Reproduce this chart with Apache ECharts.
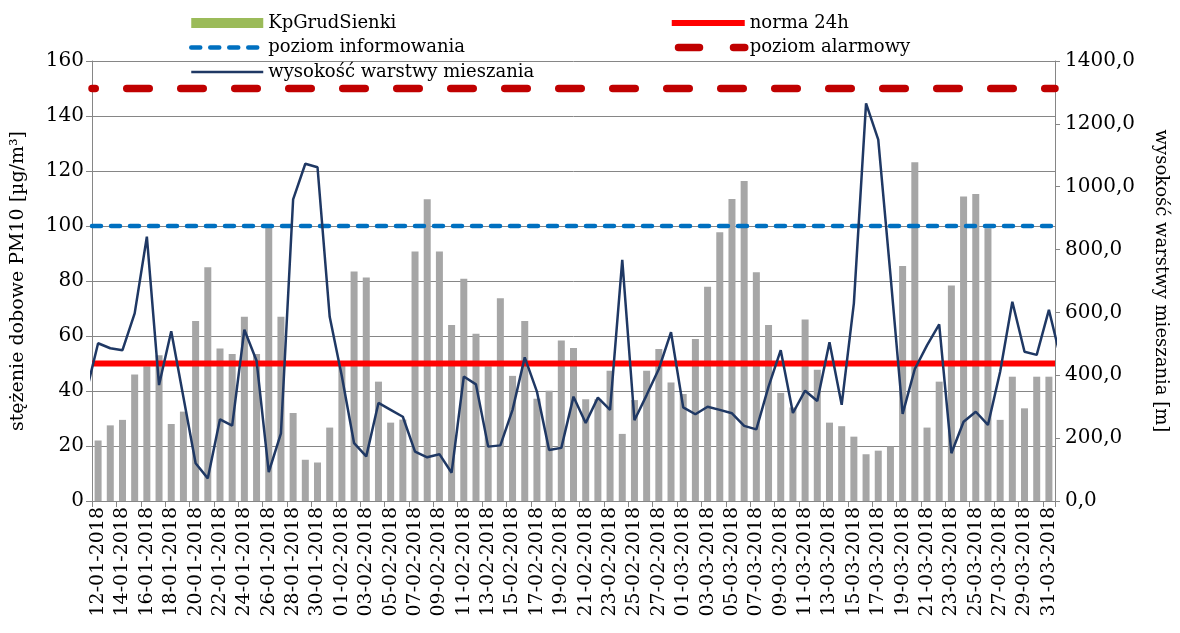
<!DOCTYPE html>
<html>
<head>
<meta charset="utf-8">
<script src="https://cdn.jsdelivr.net/npm/echarts@6/dist/echarts.min.js"></script>
<style>
html,body{margin:0;padding:0;background:#fff;}
#chart{width:1180px;height:633px;}
</style>
</head>
<body>
<div id="chart"></div>
<script>
// ---- data ----
const dates = [];
(function(){
  const months = [[1, 12, 31], [2, 1, 28], [3, 1, 31]];
  months.forEach(function(m){
    for (let d = m[1]; d <= m[2]; d++) {
      dates.push((d < 10 ? '0' : '') + d + '-0' + m[0] + '-2018');
    }
  });
})();

const pm10KpGrudSienki = [
  22, 27.5, 29.5, 46, 49, 53, 28, 32.5, 65.5, 85,
  55.5, 53.5, 67, 53.5, 100.5, 67, 32, 15, 14, 26.7,
  49.5, 83.5, 81.3, 43.4, 28.5, 29.6, 90.7, 109.7, 90.7, 64,
  80.8, 60.8, 49, 73.7, 45.5, 65.5, 37.2, 40.1, 58.4, 55.6,
  37, 37, 47.4, 24.4, 36.7, 47.4, 55.3, 43.1, 38.9, 58.9,
  77.9, 97.7, 109.8, 116.4, 83.2, 64, 39.3, 34, 66, 47.7,
  28.5, 27.2, 23.4, 17, 18.3, 19.8, 85.5, 123.2, 26.7, 43.4,
  78.4, 110.7, 111.6, 99.2, 29.5, 45.2, 33.7, 45.2, 45.2
];

// mixing layer height [m]; first value = 11-01-2018, last = 01-04-2018 (outside the shown range, clipped)
const mixingHeight = [
  342,
  502, 486, 480, 597, 841, 369, 540, 330, 120, 72,
  260, 240, 545, 446, 92, 215, 960, 1073, 1062, 586,
  396, 184, 142, 312, 290, 268, 157, 139, 149, 90,
  396, 371, 173, 177, 290, 457, 348, 162, 169, 332,
  248, 329, 290, 767, 257, 337, 420, 537, 298, 276,
  300, 290, 279, 239, 228, 364, 480, 280, 351, 318,
  505, 306, 629, 1265, 1150, 720, 277, 420, 495, 562,
  152, 252, 284, 242, 411, 634, 475, 465, 608,
  448
];

const norma24h = 50;
const poziomInformowania = 100;
const poziomAlarmowy = 150;

const leftTicks = { min: 0, max: 160, interval: 20 };
const rightTicks = { min: 0, max: 1400, interval: 200 };

// ---- chart ----
const FONT = 'DejaVu Serif';
const lineXMin = 0, lineXMax = dates.length;
const mixingPoints = mixingHeight.map(function(v, k){ return [k - 0.5, v]; });
function constLine(v){ return [[lineXMin, v], [lineXMax, v]]; }

const sNorma = { color: '#FF0000', width: 6 };
const sInfo = { color: '#0070C0', width: 4.5, type: [9, 10], cap: 'round' };
const sAlarm = { color: '#C00000', width: 7.5, type: [22.5, 31.5], cap: 'round', dashOffset: 19.25 };
const sAlarmLegend = { color: '#C00000', width: 7.5, type: [21, 34], cap: 'round', dashOffset: 48.25 };
const sMix = { color: '#1F3864', width: 2.5 };
const hiddenSymbol = { opacity: 0 };

const legendText = { fontFamily: FONT, fontSize: 18, color: '#000', lineHeight: 20 };

const chart = echarts.init(document.getElementById('chart'), null, {renderer: 'canvas'});
chart.setOption({
  animation: false,
  backgroundColor: '#ffffff',
  grid: { left: 92, right: 125, top: 61, bottom: 132, containLabel: false },
  legend: [
    {
      orient: 'vertical', left: 184, top: 8, itemGap: 4.5,
      itemWidth: 72, itemHeight: 10, textStyle: legendText,
      data: [
        { name: 'KpGrudSienki', icon: 'rect', itemStyle: { color: '#9BBB59' } },
        { name: 'poziom informowania', itemStyle: hiddenSymbol, lineStyle: sInfo },
        { name: 'wysokość warstwy mieszania', itemStyle: hiddenSymbol, lineStyle: sMix }
      ]
    },
    {
      orient: 'vertical', left: 663, top: 8, itemGap: 4.5,
      itemWidth: 73, itemHeight: 10, textStyle: legendText,
      data: [
        { name: 'norma 24h', itemStyle: hiddenSymbol, lineStyle: sNorma },
        { name: 'poziom alarmowy', itemStyle: hiddenSymbol, lineStyle: sAlarmLegend }
      ]
    }
  ],
  xAxis: [
    {
      type: 'category', data: dates, boundaryGap: true,
      axisLine: { lineStyle: { color: '#868686', width: 1 } },
      axisTick: { show: true, interval: 1, length: 6, lineStyle: { color: '#868686' } },
      axisLabel: { interval: 1, rotate: 90, fontFamily: FONT, fontSize: 19, color: '#000', margin: 6 }
    },
    {
      type: 'value', min: lineXMin, max: lineXMax, show: false
    }
  ],
  yAxis: [
    {
      type: 'value', min: leftTicks.min, max: leftTicks.max, interval: leftTicks.interval,
      name: 'stężenie dobowe PM10 [µg/m³]', nameLocation: 'middle', nameGap: 64, nameRotate: 90,
      nameTextStyle: { fontFamily: FONT, fontSize: 19, color: '#000' },
      axisLine: { show: true, lineStyle: { color: '#868686' } },
      axisTick: { show: true, length: 6, lineStyle: { color: '#868686' } },
      axisLabel: { fontFamily: FONT, fontSize: 20, color: '#000', margin: 8 },
      splitLine: { show: true, lineStyle: { color: '#868686', width: 1 } }
    },
    {
      type: 'value', min: rightTicks.min, max: rightTicks.max, interval: rightTicks.interval,
      position: 'right',
      name: 'wysokość warstwy mieszania [m]', nameLocation: 'middle', nameGap: 97, nameRotate: -90,
      nameTextStyle: { fontFamily: FONT, fontSize: 18, color: '#000' },
      axisLine: { show: true, lineStyle: { color: '#868686' } },
      axisTick: { show: true, length: 5, lineStyle: { color: '#868686' } },
      axisLabel: { fontFamily: FONT, fontSize: 20, color: '#000', margin: 10,
        formatter: function(v){ return v.toFixed(1).replace('.', ','); } },
      splitLine: { show: false }
    }
  ],
  series: [
    {
      name: 'KpGrudSienki', type: 'bar', xAxisIndex: 0, yAxisIndex: 0,
      data: pm10KpGrudSienki, barWidth: 7,
      itemStyle: { color: '#A6A6A6' }, z: 2
    },
    {
      name: 'norma 24h', type: 'line', xAxisIndex: 1, yAxisIndex: 0,
      data: constLine(norma24h), symbol: 'none', showSymbol: false,
      lineStyle: sNorma, itemStyle: { color: '#FF0000' }, z: 3
    },
    {
      name: 'poziom informowania', type: 'line', xAxisIndex: 1, yAxisIndex: 0,
      data: constLine(poziomInformowania), symbol: 'none', showSymbol: false,
      lineStyle: sInfo, itemStyle: { color: '#0070C0' }, z: 3
    },
    {
      name: 'poziom alarmowy', type: 'line', xAxisIndex: 1, yAxisIndex: 0,
      data: constLine(poziomAlarmowy), symbol: 'none', showSymbol: false,
      lineStyle: sAlarm, itemStyle: { color: '#C00000' }, z: 3
    },
    {
      name: 'wysokość warstwy mieszania', type: 'line', xAxisIndex: 1, yAxisIndex: 1,
      data: mixingPoints, symbol: 'none', showSymbol: false, clip: true,
      lineStyle: sMix, itemStyle: { color: '#1F3864' }, z: 4
    }
  ]
});
</script>
</body>
</html>
